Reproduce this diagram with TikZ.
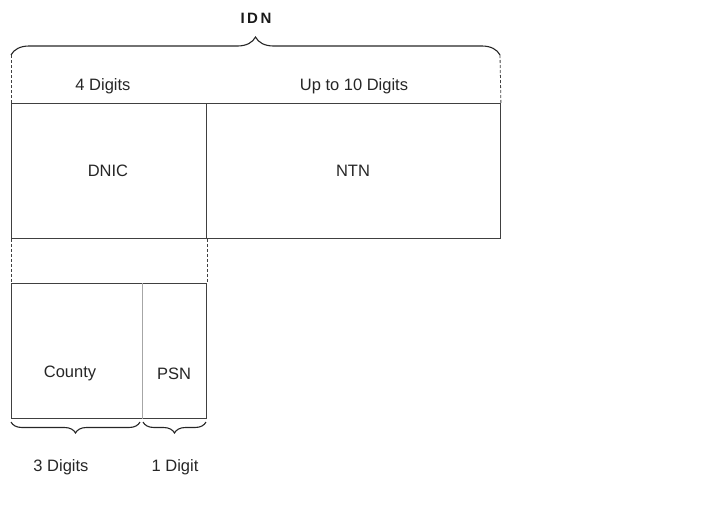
\documentclass[tikz,border=0pt]{standalone}
\usepackage{fontspec}
\setmainfont{Liberation Sans}
\usetikzlibrary{decorations.pathreplacing}
\begin{document}
\begin{tikzpicture}[x=1pt,y=-1pt,
  lbl/.style={font=\fontsize{16.5}{18}\selectfont, text=black!85, inner sep=0pt},
  box/.style={draw=black!75, line width=0.9pt},
  dashline/.style={draw=black!75, dash pattern=on 3pt off 2pt, line width=0.8pt},
  br/.style={draw=black!85, line width=1.1pt, decorate, decoration={brace, amplitude=#1}}]
\useasboundingbox (0,0) rectangle (712,523);
% boxes
\node[box, minimum width=195pt, minimum height=135pt, anchor=north west] (dnic) at (11,103) {};
\node[box, minimum width=294pt, minimum height=135pt, anchor=north west] (ntn) at (206,103) {};
\node[box, minimum width=131pt, minimum height=135pt, anchor=north west] (county) at (11,283) {};
\node[box, minimum width=64pt, minimum height=135pt, anchor=north west] (psn) at (142,283) {};
\draw[draw=black!35, line width=1pt] (psn.north west) -- (psn.south west);
\node[lbl] (dnict) at (108,170.5) {DNIC};
\node[lbl] (ntnt) at (353,170.5) {NTN};
\node[lbl] (countyt) at (70,373.5) {County};
\node[lbl] (psnt) at (174,373.5) {PSN};
% dashed connectors
\coordinate (tl) at (11,55);
\coordinate (tr) at (500,55);
\draw[dashline] (tl) -- (dnic.north west);
\draw[dashline] (tr) -- (ntn.north east);
\draw[dashline] (dnic.south west) -- (county.north west);
\draw[dashline] (dnic.south east) -- (psn.north east);
% braces
\draw[br=18pt] (tl) -- (tr);
\coordinate (b1a) at (11,422);
\coordinate (b1b) at (140,422);
\coordinate (b2a) at (143,422);
\coordinate (b2b) at (206,422);
\draw[br=11pt] (b1b) -- (b1a);
\draw[br=11pt] (b2b) -- (b2a);
% labels
\node[font=\fontsize{15}{18}\selectfont\bfseries, text=black!90, inner sep=0pt] (idn) at (256,18.5) {I\kern2.5pt D\kern2.5pt N};
\node[lbl] (d4) at (103,86) {4 Digits};
\node[lbl] (d10) at (354,86) {Up to 10 Digits};
\node[lbl] (d3) at (61,467) {3 Digits};
\node[lbl] (d1) at (175,467) {1 Digit};
\end{tikzpicture}
\end{document}
